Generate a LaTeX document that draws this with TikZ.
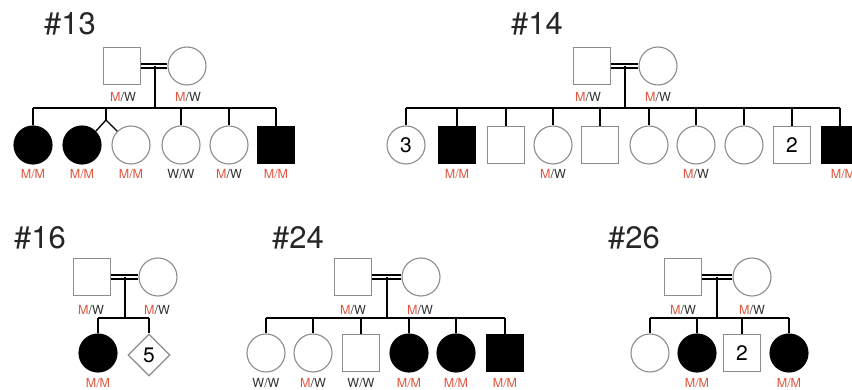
\documentclass[tikz,border=0pt]{standalone}
\usepackage{fontspec}
\setmainfont{TeX Gyre Heros}
\usetikzlibrary{shapes.geometric}
\definecolor{mred}{HTML}{E0553F}
\definecolor{wdark}{HTML}{333333}
\definecolor{outl}{HTML}{8C8C8C}
\newcommand\MW{\textcolor{mred}{M}\textcolor{wdark}{/W}}
\newcommand\MM{\textcolor{mred}{M/M}}
\newcommand\WW{\textcolor{wdark}{W/W}}
\tikzset{
  male/.style={rectangle,draw=outl,line width=1.1pt,minimum size=37pt,inner sep=0pt,fill=white,font=\fontsize{21}{21}\selectfont},
  female/.style={circle,draw=outl,line width=1.1pt,minimum size=38pt,inner sep=0pt,fill=white,font=\fontsize{21}{21}\selectfont},
  unk/.style={diamond,draw=outl,line width=1.1pt,minimum size=42pt,inner sep=0pt,fill=white,aspect=1,font=\fontsize{21}{21}\selectfont},
  aff/.style={fill=black,draw=black},
  lbl/.style={inner sep=0pt,font=\fontsize{12.5}{12.5}\selectfont},
  ttl/.style={inner sep=0pt,font=\fontsize{31}{31}\selectfont,text=black!85},
  cn/.style={line width=1.3pt,black},
  mar/.style={line width=1.3pt,black}
}
\begin{document}
\begin{tikzpicture}[x=1pt,y=-1pt]
\useasboundingbox (0,0) rectangle (852,390);
\clip (0,0) rectangle (852,390);
\fill[white] (0,0) rectangle (852,390);

% ---------------- #13 ----------------
\node[ttl] (t13) at (70,24) {\#13};
\node[male] (f13) at (122,66) {};
\node[female] (m13) at (187,66) {};
\node[lbl] (lf13) at (123,97) {\MW};
\node[lbl] (lm13) at (188,97) {\MW};
\draw[mar] ([yshift=2pt]f13.east) -- ([yshift=2pt]m13.west);
\draw[mar] ([yshift=-2pt]f13.east) -- ([yshift=-2pt]m13.west);
\coordinate (c13) at (155,66);
\coordinate (s13) at (155,108);
\draw[cn] (c13) -- (s13);
\node[female,aff] (a1) at (33,145) {};
\node[female,aff] (a2) at (82,145) {};
\node[female] (a3) at (131,145) {};
\node[female] (a4) at (181,145) {};
\node[female] (a5) at (229,145) {};
\node[male,aff] (a6) at (276,145) {};
\draw[cn] (a1.north |- s13) -- (a6.north |- s13);
\foreach \k in {a1,a4,a5,a6} \draw[cn] (\k.north |- s13) -- (\k.north);
\coordinate (tw13) at (106,108);
\coordinate (ap13) at (106,120);
\draw[cn] (tw13) -- (ap13);
\draw[cn] (ap13) -- (a2.45);
\draw[cn] (ap13) -- (a3.135);
\node[lbl] (la1) at (33,174) {\MM};
\node[lbl] (la2) at (82,174) {\MM};
\node[lbl] (la3) at (131,174) {\MM};
\node[lbl] (la4) at (181,174) {\WW};
\node[lbl] (la5) at (229,174) {\MW};
\node[lbl] (la6) at (276,174) {\MM};

% ---------------- #14 ----------------
\node[ttl] (t14) at (537,24) {\#14};
\node[male] (f14) at (592,66) {};
\node[female] (m14) at (658,66) {};
\node[lbl] (lf14) at (588,97) {\MW};
\node[lbl] (lm14) at (658,97) {\MW};
\draw[mar] ([yshift=2pt]f14.east) -- ([yshift=2pt]m14.west);
\draw[mar] ([yshift=-2pt]f14.east) -- ([yshift=-2pt]m14.west);
\coordinate (c14) at (625,66);
\coordinate (s14) at (625,108);
\draw[cn] (c14) -- (s14);
\node[female] (b1) at (406,145) {3};
\node[male,aff] (b2) at (457,145) {};
\node[male] (b3) at (506,145) {};
\node[female] (b4) at (553,145) {};
\node[male] (b5) at (600,145) {};
\node[female] (b6) at (649,145) {};
\node[female] (b7) at (696,145) {};
\node[female] (b8) at (744,145) {};
\node[male] (b9) at (792,145) {2};
\node[male,aff] (b10) at (840,145) {};
\draw[cn] (b1.north |- s14) -- (b10.north |- s14);
\foreach \k in {b1,b2,b3,b4,b5,b6,b7,b8,b9,b10} \draw[cn] (\k.north |- s14) -- (\k.north);
\node[lbl] (lb2) at (457,174) {\MM};
\node[lbl] (lb4) at (553,174) {\MW};
\node[lbl] (lb7) at (696,174) {\MW};
\node[lbl] (lb10) at (843,174) {\MM};

% ---------------- #16 ----------------
\node[ttl] (t16) at (40,238) {\#16};
\node[male] (f16) at (92,277) {};
\node[female] (m16) at (158,277) {};
\node[lbl] (lf16) at (91,310) {\MW};
\node[lbl] (lm16) at (157,310) {\MW};
\draw[mar] ([yshift=2pt]f16.east) -- ([yshift=2pt]m16.west);
\draw[mar] ([yshift=-2pt]f16.east) -- ([yshift=-2pt]m16.west);
\coordinate (c16) at (125,277);
\coordinate (s16) at (125,318);
\draw[cn] (c16) -- (s16);
\node[female,aff] (d1) at (98,353) {};
\node[unk] (d2) at (149,355) {5};
\draw[cn] (d1.north |- s16) -- (d2.north |- s16);
\foreach \k in {d1,d2} \draw[cn] (\k.north |- s16) -- (\k.north);
\node[lbl] (ld1) at (98,383) {\MM};

% ---------------- #24 ----------------
\node[ttl] (t24) at (298,238) {\#24};
\node[male] (f24) at (353,277) {};
\node[female] (m24) at (421,277) {};
\node[lbl] (lf24) at (353,310) {\MW};
\node[lbl] (lm24) at (420,310) {\MW};
\draw[mar] ([yshift=2pt]f24.east) -- ([yshift=2pt]m24.west);
\draw[mar] ([yshift=-2pt]f24.east) -- ([yshift=-2pt]m24.west);
\coordinate (c24) at (387,277);
\coordinate (s24) at (387,318);
\draw[cn] (c24) -- (s24);
\node[female] (e1) at (266,353) {};
\node[female] (e2) at (313,353) {};
\node[male] (e3) at (361,353) {};
\node[female,aff] (e4) at (409,353) {};
\node[female,aff] (e5) at (456,353) {};
\node[male,aff] (e6) at (505,353) {};
\draw[cn] (e1.north |- s24) -- (e6.north |- s24);
\foreach \k in {e1,e2,e3,e4,e5,e6} \draw[cn] (\k.north |- s24) -- (\k.north);
\node[lbl] (le1) at (266,383) {\WW};
\node[lbl] (le2) at (313,383) {\MW};
\node[lbl] (le3) at (361,383) {\WW};
\node[lbl] (le4) at (409,383) {\MM};
\node[lbl] (le5) at (456,383) {\MM};
\node[lbl] (le6) at (505,383) {\MM};

% ---------------- #26 ----------------
\node[ttl] (t26) at (634,238) {\#26};
\node[male] (f26) at (683,277) {};
\node[female] (m26) at (752,277) {};
\node[lbl] (lf26) at (683,310) {\MW};
\node[lbl] (lm26) at (752,310) {\MW};
\draw[mar] ([yshift=2pt]f26.east) -- ([yshift=2pt]m26.west);
\draw[mar] ([yshift=-2pt]f26.east) -- ([yshift=-2pt]m26.west);
\coordinate (c26) at (717,277);
\coordinate (s26) at (717,318);
\draw[cn] (c26) -- (s26);
\node[female] (g1) at (650,353) {};
\node[female,aff] (g2) at (697,353) {};
\node[male] (g3) at (742,353) {2};
\node[female,aff] (g4) at (789,353) {};
\draw[cn] (g1.north |- s26) -- (g4.north |- s26);
\foreach \k in {g1,g2,g3,g4} \draw[cn] (\k.north |- s26) -- (\k.north);
\node[lbl] (lg2) at (697,383) {\MM};
\node[lbl] (lg4) at (789,383) {\MM};
\end{tikzpicture}
\end{document}
